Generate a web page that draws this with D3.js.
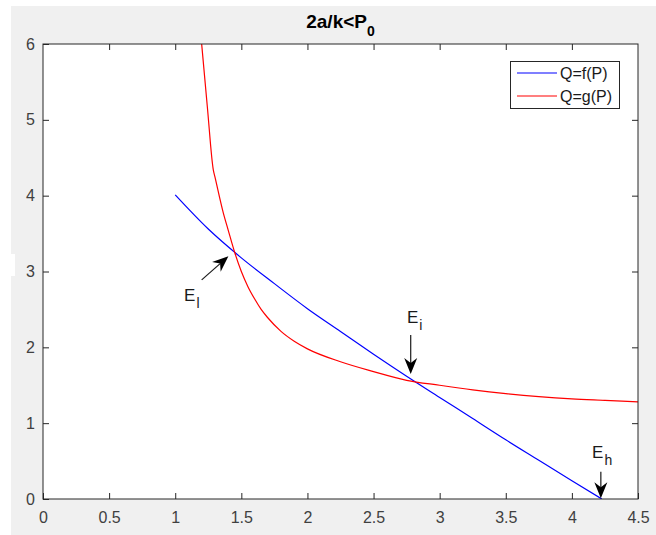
<!DOCTYPE html>
<html>
<head>
<meta charset="utf-8">
<script src="https://cdn.jsdelivr.net/npm/d3@7/dist/d3.min.js"></script>
<style>
  html, body { margin: 0; padding: 0; background: #ffffff; }
  svg { display: block; }
  text { font-family: "Liberation Sans", Arial, Helvetica, sans-serif; }
</style>
</head>
<body>
<svg id="chart" width="656" height="535"></svg>
<script>
// ---- data ----
const titleText = "2a/k<P";
const titleSub = "0";
const xTicks = [0, 0.5, 1, 1.5, 2, 2.5, 3, 3.5, 4, 4.5];
const xTickLabels = ["0", "0.5", "1", "1.5", "2", "2.5", "3", "3.5", "4", "4.5"];
const yTicks = [0, 1, 2, 3, 4, 5, 6];
const yTickLabels = ["0", "1", "2", "3", "4", "5", "6"];
const seriesNames = ["Q=f(P)", "Q=g(P)"];

// Q = f(P) (blue)
const fP = [1.0, 1.25, 1.5, 1.75, 2.0, 2.25, 2.5, 2.75, 3.0, 3.25, 3.5, 3.75, 4.0, 4.226];
const fQ = [4.01, 3.56, 3.18, 2.84, 2.51, 2.21, 1.91, 1.62, 1.34, 1.06, 0.78, 0.51, 0.24, 0.0];

// Q = g(P) (red)
const gP = [1.20, 1.243, 1.288, 1.30, 1.364, 1.40, 1.45, 1.50, 1.55, 1.60, 1.65, 1.70, 1.80, 1.90, 2.00, 2.25, 2.50, 2.75, 3.00, 3.25, 3.50, 3.75, 4.00, 4.25, 4.50];
const gQ = [6.00, 5.17, 4.34, 4.25, 3.77, 3.55, 3.25, 3.00, 2.80, 2.64, 2.50, 2.39, 2.21, 2.08, 1.98, 1.81, 1.68, 1.565, 1.50, 1.44, 1.39, 1.35, 1.32, 1.30, 1.28];

// annotations: label, subscript, text anchor (P,Q), arrow tail (P,Q), arrow tip (P,Q)
const annLabels = ["E", "E", "E"];
const annSubs = ["l", "i", "h"];
const annTextP = [1.067, 2.753, 4.153];
const annTextQ = [2.611, 2.321, 0.541];
const annTailP = [1.20, 2.781, 4.219];
const annTailQ = [2.89, 2.163, 0.36];
const annTipP = [1.402, 2.781, 4.219];
const annTipQ = [3.20, 1.648, 0.01];

// ---- layout ----
const svg = d3.select("#chart");
const W = 656, H = 535;
const L = 43, R = 638, T = 44, B = 499;

svg.append("rect").attr("x", 11).attr("y", 6).attr("width", W - 11).attr("height", H - 6).attr("fill", "#f0f0f0");
svg.append("rect").attr("x", 0).attr("y", 254).attr("width", 15).attr("height", 22).attr("fill", "#ffffff");

const x = d3.scaleLinear().domain([0, 4.5]).range([L, R]);
const y = d3.scaleLinear().domain([0, 6]).range([B, T]);

// plot area
svg.append("rect").attr("x", L).attr("y", T).attr("width", R - L).attr("height", B - T).attr("fill", "#ffffff");

svg.append("defs").append("clipPath").attr("id", "clip")
  .append("rect").attr("x", L).attr("y", T).attr("width", R - L).attr("height", B - T);

const plot = svg.append("g").attr("clip-path", "url(#clip)");

const line = d3.line().x(d => x(d[0])).y(d => y(d[1])).curve(d3.curveMonotoneX);
const fData = fP.map((p, i) => [p, fQ[i]]);
const gData = gP.map((p, i) => [p, gQ[i]]);

plot.append("path").datum(fData).attr("d", line)
  .attr("fill", "none").attr("stroke", "#0000ff").attr("stroke-width", 1.2);
plot.append("path").datum(gData).attr("d", line)
  .attr("fill", "none").attr("stroke", "#ff0000").attr("stroke-width", 1.2);

// axes (ticks inside, on all four sides)
const axisColor = "#262626";
const tickLen = 6;
const fontSize = 16;

function styleAxis(g) {
  g.select(".domain").remove();
  g.selectAll(".tick line").attr("stroke", axisColor).attr("stroke-width", 1);
  g.selectAll(".tick text").attr("fill", "#404040").attr("font-size", fontSize)
    .attr("font-family", "'Liberation Sans', Arial, sans-serif");
}

const xAxis = d3.axisBottom(x).tickValues(xTicks).tickFormat((d, i) => xTickLabels[i])
  .tickSizeInner(-tickLen).tickSizeOuter(0).tickPadding(13);
svg.append("g").attr("transform", `translate(0,${B})`).call(xAxis).call(styleAxis);

const xAxisTop = d3.axisTop(x).tickValues(xTicks.slice(1, -1)).tickFormat("")
  .tickSizeInner(-tickLen).tickSizeOuter(0);
svg.append("g").attr("transform", `translate(0,${T})`).call(xAxisTop).call(styleAxis);

const yAxis = d3.axisLeft(y).tickValues(yTicks).tickFormat((d, i) => yTickLabels[i])
  .tickSizeInner(-tickLen).tickSizeOuter(0).tickPadding(8);
svg.append("g").attr("transform", `translate(${L},0)`).call(yAxis).call(styleAxis);

const yAxisRight = d3.axisRight(y).tickValues(yTicks.slice(1, -1)).tickFormat("")
  .tickSizeInner(-tickLen).tickSizeOuter(0);
svg.append("g").attr("transform", `translate(${R},0)`).call(yAxisRight).call(styleAxis);

// box
svg.append("rect").attr("x", L).attr("y", T).attr("width", R - L).attr("height", B - T)
  .attr("fill", "none").attr("stroke", axisColor).attr("stroke-width", 1);

// title
const title = svg.append("text").attr("x", (L + R) / 2).attr("y", 28)
  .attr("text-anchor", "middle").attr("font-size", 19).attr("font-weight", "bold").attr("fill", "#000");
title.append("tspan").text(titleText);
title.append("tspan").attr("dy", 8).attr("font-size", 14).text(titleSub);

// annotations
const arrowColor = "#000000";
annLabels.forEach((lab, i) => {
  const x1 = x(annTailP[i]), y1 = y(annTailQ[i]);
  const x2 = x(annTipP[i]), y2 = y(annTipQ[i]);
  const ang = Math.atan2(y2 - y1, x2 - x1);
  const headLen = 16, headW = 6.5, notch = 11;
  svg.append("line")
    .attr("x1", x1).attr("y1", y1)
    .attr("x2", x2 - Math.cos(ang) * notch).attr("y2", y2 - Math.sin(ang) * notch)
    .attr("stroke", "#1a1a1a").attr("stroke-width", 1.2);
  const c = Math.cos(ang), s = Math.sin(ang);
  const pts = [
    [0, 0],
    [-headLen, headW],
    [-notch, 0],
    [-headLen, -headW]
  ].map(([u, v]) => [x2 + u * c - v * s, y2 + u * s + v * c]);
  svg.append("path").attr("d", "M" + pts.map(p => p.join(",")).join("L") + "Z")
    .attr("fill", arrowColor).attr("stroke", "none");
  const t = svg.append("text").attr("x", x(annTextP[i])).attr("y", y(annTextQ[i]))
    .attr("font-size", 17).attr("fill", "#1a1a1a");
  t.append("tspan").text(lab);
  t.append("tspan").attr("dx", 1).attr("dy", 7).attr("font-size", 14).text(annSubs[i]);
});

// legend
const lg = svg.append("g");
lg.append("rect").attr("x", 510.5).attr("y", 61.5).attr("width", 109).attr("height", 47)
  .attr("fill", "#ffffff").attr("stroke", axisColor).attr("stroke-width", 1);
const legColors = ["#0000ff", "#ff0000"];
const legY = [73, 96];
seriesNames.forEach((nm, i) => {
  lg.append("line").attr("x1", 517).attr("x2", 557).attr("y1", legY[i]).attr("y2", legY[i])
    .attr("stroke", legColors[i]).attr("stroke-width", 1.2);
  lg.append("text").attr("x", 560).attr("y", legY[i] + 5.5).attr("font-size", 16).attr("fill", "#1a1a1a").text(nm);
});
</script>
</body>
</html>
